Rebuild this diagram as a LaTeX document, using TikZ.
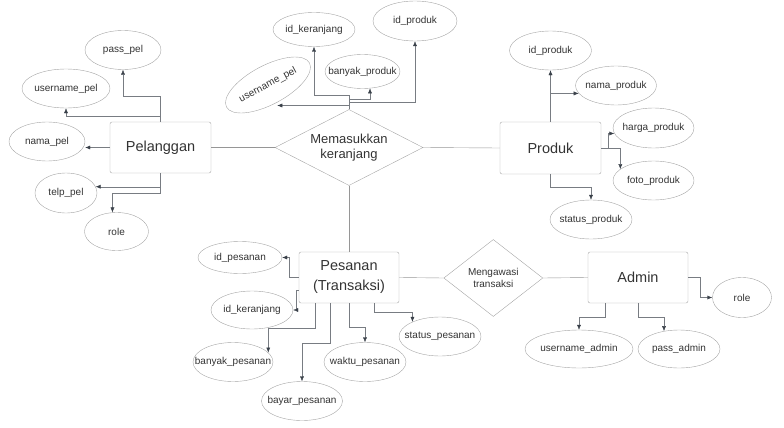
\documentclass[tikz,border=0pt]{standalone}
\usepackage{fontspec}
\setmainfont{Liberation Sans}
\usetikzlibrary{calc, shapes.geometric, positioning, arrows.meta}
\definecolor{txtgray}{RGB}{51,51,51}
\definecolor{bordgray}{RGB}{165,165,165}
\definecolor{linegray}{RGB}{150,150,150}
\definecolor{conngray}{RGB}{120,124,130}
\definecolor{tipgray}{RGB}{58,65,74}

\begin{document}
\begin{tikzpicture}[x=1pt,y=-1pt,inner sep=0pt,
  ent/.style={draw=bordgray,rounded corners=2pt,minimum width=101pt,minimum height=51pt,align=center,text=txtgray,font=\fontsize{14.5}{20}\selectfont},
  rel/.style={diamond,draw=bordgray,align=center,text=txtgray},
  attr/.style={ellipse,draw=bordgray,text=txtgray,inner xsep=-15pt,font=\fontsize{10}{12}\selectfont},
  link/.style={draw=linegray},
  conn/.style={draw=conngray,-{Latex[length=5pt,width=4pt,color=tipgray]}}]
\useasboundingbox (0,0) rectangle (784,428);

% entitas dan relasi
\node[ent] (pel) at (160.5,147.5) {Pelanggan};
\node[ent,minimum height=52pt] (prod) at (550.5,148) {Produk};
\node[ent,minimum width=100pt] (pes) at (349,277.5) {Pesanan\\(Transaksi)};
\node[ent,minimum width=100pt] (adm) at (638,277.5) {Admin};
\node[rel,aspect=2,minimum width=148pt,minimum height=76pt,font=\fontsize{13}{15.5}\selectfont] (memas) at (349,147.5) {Memasukkan\\keranjang};
\node[rel,aspect=1.27,minimum width=99pt,minimum height=77pt,font=\fontsize{10}{11.5}\selectfont] (awas) at (493.3,278) {Mengawasi\\transaksi};

% atribut pelanggan
\node[attr,minimum width=76pt,minimum height=39pt] (passpel) at (123,50) {pass\_pel};
\node[attr,minimum width=88pt,minimum height=39pt] (userpel) at (66,88.5) {username\_pel};
\node[attr,minimum width=76pt,minimum height=39pt] (namapel) at (47,141.5) {nama\_pel};
\node[attr,minimum width=62pt,minimum height=40pt] (telppel) at (66,193) {telp\_pel};
\node[attr,minimum width=64pt,minimum height=38pt] (rolepel) at (116.5,231.5) {role};

% atribut keranjang
\node[attr,rotate=28,minimum width=94pt,minimum height=39pt] (userker) at (268,85) {username\_pel};
\node[attr,minimum width=82pt,minimum height=34pt] (idker) at (314,29.5) {id\_keranjang};
\node[attr,minimum width=75pt,minimum height=34pt] (banprod) at (362.5,71.5) {banyak\_produk};
\node[attr,minimum width=84pt,minimum height=40pt] (idprodk) at (415,21) {id\_produk};

% atribut produk
\node[attr,minimum width=82pt,minimum height=39pt] (idprod) at (550.5,50.5) {id\_produk};
\node[attr,minimum width=81pt,minimum height=39pt] (namaprod) at (616,85.5) {nama\_produk};
\node[attr,minimum width=81pt,minimum height=40pt] (hargaprod) at (653.5,128) {harga\_produk};
\node[attr,minimum width=81pt,minimum height=39pt] (fotoprod) at (653.5,180.5) {foto\_produk};
\node[attr,minimum width=82pt,minimum height=39pt] (statprod) at (591,219.5) {status\_produk};

% atribut pesanan
\node[attr,minimum width=84pt,minimum height=32pt] (idpes) at (240,257.5) {id\_pesanan};
\node[attr,minimum width=82pt,minimum height=38pt] (idkerpes) at (252,310) {id\_keranjang};
\node[attr,minimum width=80pt,minimum height=39pt] (banpes) at (233,362) {banyak\_pesanan};
\node[attr,minimum width=81pt,minimum height=39pt] (bayarpes) at (302,401) {bayar\_pesanan};
\node[attr,minimum width=82pt,minimum height=39pt] (waktupes) at (365,362) {waktu\_pesanan};
\node[attr,minimum width=82pt,minimum height=39pt] (statpes) at (440,336.5) {status\_pesanan};

% atribut admin
\node[attr,minimum width=59pt,minimum height=40pt] (roleadm) at (742,297.5) {role};
\node[attr,minimum width=108pt,minimum height=38pt] (useradm) at (579,349) {username\_admin};
\node[attr,minimum width=82pt,minimum height=38pt] (passadm) at (679,349) {pass\_admin};

% garis relasi
\draw[link] (pel.east) -- (memas.west);
\draw[link] (memas.east) -- (prod.west);
\draw[link] (memas.south) -- (pes.north);
\draw[link] (pes.east) -- (awas.west);
\draw[link] (awas.east) -- (adm.west);

% panah atribut
\draw[conn] (pel.north) -- ++(0,-26) -| (passpel.south);
\draw[conn] (pel.north) -- ++(0,-6) -| (userpel.south);
\draw[conn] (pel.west) -- (namapel.east |- pel.west);
\draw[conn] (pel.south) |- (telppel.12);
\draw[conn] (pel.south) -- ++(0,20) -| (rolepel.102);

\coordinate (mkt) at ($(memas.north)+(0,-3.8)$);
\draw[conn] (memas.north) -- (mkt) -- (mkt -| userker.south);
\draw[conn] (memas.north) -- ++(0,-14.5) -| (idker.south);
\draw[conn] (memas.north) -- ++(0,-10.5) -| (banprod.-66);
\draw[conn] (memas.north) -- ++(0,-7.5) -| (idprodk.south);

\draw[conn] (prod.north) -- (idprod.south);
\draw[conn] (prod.north) |- (namaprod.192);
\draw[conn] (prod.east) -- ++(6.7,0) |- (hargaprod.188);
\draw[conn] (prod.east) -| (fotoprod.161);
\draw[conn] (prod.south) -- ++(0,13.3) -| (statprod.north);

\draw[conn] (pes.west) -- ++(-10,0) |- (idpes.east);
\draw[conn] ([yshift=-12.5pt]pes.west) -- ++(-2.3,0) |- (idkerpes.east);
\draw[conn] ([xshift=-34pt]pes.south) -- ++(0,25) -| (banpes.15);
\draw[conn] ([xshift=-19pt]pes.south) -- ++(0,40) -| (bayarpes.north);
\draw[conn] (pes.south) -- ++(0,23.5) -| (waktupes.north);
\draw[conn] ([xshift=25pt]pes.south) -- ++(0,8.7) -| (statpes.152);

\draw[conn] (adm.east) -- ++(12,0) |- (roleadm.west);
\draw[conn] ([xshift=-33pt]adm.south) -- ++(0,14) -| (useradm.north);
\draw[conn] (adm.south) -- ++(0,14) -| (passadm.130);
\end{tikzpicture}
\end{document}
